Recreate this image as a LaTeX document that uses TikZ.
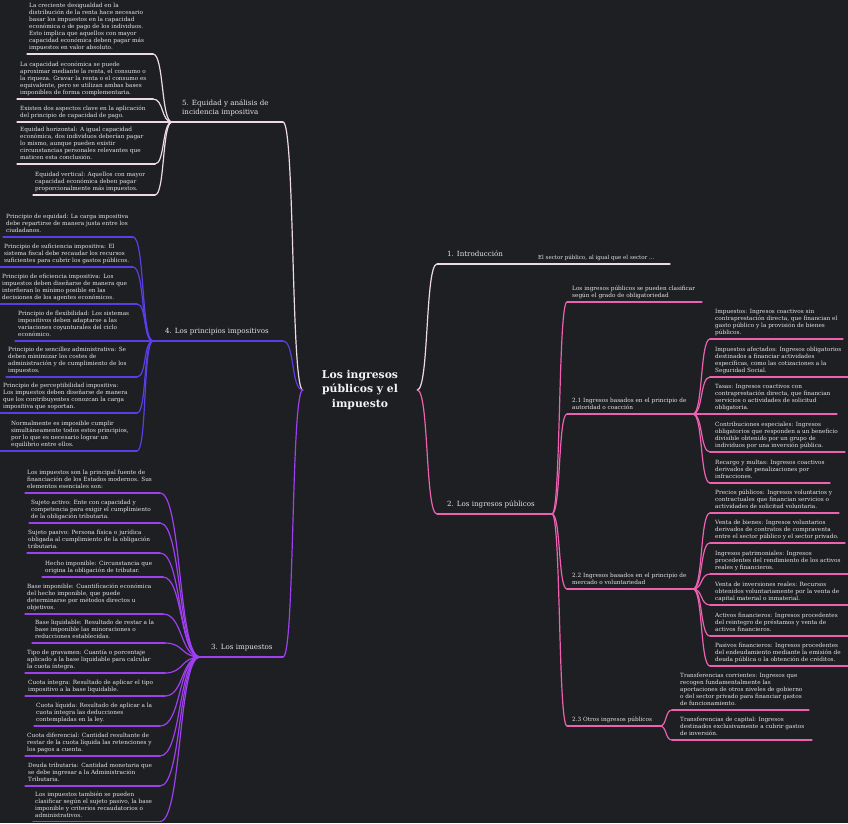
\documentclass[tikz,border=0pt]{standalone}
\usepackage{fontspec}
\setmainfont{DejaVu Serif}
\definecolor{bg}{HTML}{1E1F23}
\definecolor{txt}{HTML}{E6E6E6}
\definecolor{ttl}{HTML}{F4F4F4}
\definecolor{cw}{HTML}{EEDAE6}
\definecolor{cpk}{HTML}{EE60B0}
\definecolor{cbl}{HTML}{5B3DE6}
\definecolor{cpu}{HTML}{9E3FF0}
\newcommand\itm[8]{%
  \coordinate (#1-l) at (#4,#6);
  \coordinate (#1-r) at (#5,#6);
  \node[#2,anchor=south west] (#1) at (#7,#6) {#8};
  \draw[ln,#3] (#1-l) -- (#1-r);
}
\newcommand\lnkL[4]{\draw[ln,#1] (#2) to[out=180,in=0,distance=#4pt] (#3);}
\newcommand\lnkR[4]{\draw[ln,#1] (#2) to[out=0,in=180,distance=#4pt] (#3);}
\begin{document}
\begin{tikzpicture}[x=1pt,y=-1pt,
  ln/.style={line width=1.2pt,line cap=round},
  leaf/.style={font=\fontsize{5.75}{7}\selectfont,text=txt,align=left,inner sep=0pt,yshift=2pt,execute at end node=\strut},
  br/.style={font=\fontsize{7.1}{9.4}\selectfont,text=txt,align=left,inner sep=0pt,yshift=4.3pt,execute at end node=\strut},
  sm/.style={font=\fontsize{5.5}{6.5}\selectfont,text=txt,align=left,inner sep=0pt,yshift=2pt,execute at end node=\strut}]
\useasboundingbox (0,0) rectangle (848,823);
\fill[bg] (0,0) rectangle (848,823);

\node[font=\bfseries\fontsize{10.8}{14.5}\selectfont,text=ttl,align=center,minimum width=114pt,inner sep=0pt] (root) at (360,390) {Los ingresos\\públicos y el\\impuesto};

% ---------- right side ----------
\itm{b1}{br}{cw}{437}{530}{264}{447}{1. Introducción}
\itm{i1}{sm}{cw}{530}{670}{264}{538}{El sector público, al igual que el sector ...}
\itm{b2}{br}{cpk}{437}{552}{514}{447}{2. Los ingresos públicos}
\lnkR{cw}{root.east}{b1-l}{12}
\lnkR{cpk}{root.east}{b2-l}{12}

\itm{s0}{leaf}{cpk}{567}{702}{302}{572}{Los ingresos públicos se pueden clasificar\\según el grado de obligatoriedad}
\itm{s1}{leaf}{cpk}{567}{693}{414}{572}{2.1 Ingresos basados en el principio de\\autoridad o coacción}
\itm{s2}{leaf}{cpk}{567}{693}{589}{572}{2.2 Ingresos basados en el principio de\\mercado o voluntariedad}
\itm{s3}{leaf}{cpk}{567}{660}{726}{572}{2.3 Otros ingresos públicos}
\foreach \n in {s0,s1,s2,s3} {\lnkR{cpk}{b2-r}{\n-l}{9}}

\itm{a1}{leaf}{cpk}{710}{843}{339}{715}{Impuestos: Ingresos coactivos sin\\contraprestación directa, que financian el\\gasto público y la provisión de bienes\\públicos.}
\itm{a2}{leaf}{cpk}{710}{848}{377}{715}{Impuestos afectados: Ingresos obligatorios\\destinados a financiar actividades\\específicas, como las cotizaciones a la\\Seguridad Social.}
\itm{a3}{leaf}{cpk}{710}{837}{414}{715}{Tasas: Ingresos coactivos con\\contraprestación directa, que financian\\servicios o actividades de solicitud\\obligatoria.}
\itm{a4}{leaf}{cpk}{710}{845}{452}{715}{Contribuciones especiales: Ingresos\\obligatorios que responden a un beneficio\\divisible obtenido por un grupo de\\individuos por una inversión pública.}
\itm{a5}{leaf}{cpk}{710}{830}{483}{715}{Recargo y multas: Ingresos coactivos\\derivados de penalizaciones por\\infracciones.}
\foreach \n in {a1,a2,a3,a4,a5} {\lnkR{cpk}{s1-r}{\n-l}{10}}

\itm{m1}{leaf}{cpk}{710}{839}{513}{715}{Precios públicos: Ingresos voluntarios y\\contractuales que financian servicios o\\actividades de solicitud voluntaria.}
\itm{m2}{leaf}{cpk}{710}{845}{543}{715}{Venta de bienes: Ingresos voluntarios\\derivados de contratos de compraventa\\entre el sector público y el sector privado.}
\itm{m3}{leaf}{cpk}{710}{848}{574}{715}{Ingresos patrimoniales: Ingresos\\procedentes del rendimiento de los activos\\reales y financieros.}
\itm{m4}{leaf}{cpk}{710}{848}{605}{715}{Venta de inversiones reales: Recursos\\obtenidos voluntariamente por la venta de\\capital material o inmaterial.}
\itm{m5}{leaf}{cpk}{710}{848}{636}{715}{Activos financieros: Ingresos procedentes\\del reintegro de préstamos y venta de\\activos financieros.}
\itm{m6}{leaf}{cpk}{710}{848}{666}{715}{Pasivos financieros: Ingresos procedentes\\del endeudamiento mediante la emisión de\\deuda pública o la obtención de créditos.}
\foreach \n in {m1,m2,m3,m4,m5,m6} {\lnkR{cpk}{s2-r}{\n-l}{10}}

\itm{o1}{leaf}{cpk}{672}{809}{710}{680}{Transferencias corrientes: Ingresos que\\recogen fundamentalmente las\\aportaciones de otros niveles de gobierno\\o del sector privado para financiar gastos\\de funcionamiento.}
\itm{o2}{leaf}{cpk}{672}{812}{740}{680}{Transferencias de capital: Ingresos\\destinados exclusivamente a cubrir gastos\\de inversión.}
\foreach \n in {o1,o2} {\lnkR{cpk}{s3-r}{\n-l}{7}}

% ---------- left side ----------
\itm{b5}{br}{cw}{172}{283}{122}{182}{5. Equidad y análisis de\\incidencia impositiva}
\itm{b4}{br}{cbl}{153}{283}{341}{165}{4. Los principios impositivos}
\itm{b3}{br}{cpu}{200}{283}{657}{211}{3. Los impuestos}
\lnkL{cw}{root.west}{b5-r}{12}
\lnkL{cbl}{root.west}{b4-r}{12}
\lnkL{cpu}{root.west}{b3-r}{12}

\itm{e1}{leaf}{cw}{27}{153}{54}{29}{La creciente desigualdad en la\\distribución de la renta hace necesario\\basar los impuestos en la capacidad\\económica o de pago de los individuos.\\Esto implica que aquellos con mayor\\capacidad económica deben pagar más\\impuestos en valor absoluto.}
\itm{e2}{leaf}{cw}{17}{153}{99}{20}{La capacidad económica se puede\\aproximar mediante la renta, el consumo o\\la riqueza. Gravar la renta o el consumo es\\equivalente, pero se utilizan ambas bases\\imponibles de forma complementaria.}
\itm{e3}{leaf}{cw}{17}{172}{122}{20}{Existen dos aspectos clave en la aplicación\\del principio de capacidad de pago.}
\itm{e4}{leaf}{cw}{17}{155}{164}{20}{Equidad horizontal: A igual capacidad\\económica, dos individuos deberían pagar\\lo mismo, aunque pueden existir\\circunstancias personales relevantes que\\maticen esta conclusión.}
\itm{e5}{leaf}{cw}{33}{155}{195}{35}{Equidad vertical: Aquellos con mayor\\capacidad económica deben pagar\\proporcionalmente más impuestos.}
\foreach \n/\d in {e1/11,e2/11,e4/10,e5/10} {\lnkL{cw}{b5-l}{\n-r}{\d}}

\itm{p1}{leaf}{cbl}{3}{133}{237}{6}{Principio de equidad: La carga impositiva\\debe repartirse de manera justa entre los\\ciudadanos.}
\itm{p2}{leaf}{cbl}{0}{133}{267}{4}{Principio de suficiencia impositiva: El\\sistema fiscal debe recaudar los recursos\\suficientes para cubrir los gastos públicos.}
\itm{p3}{leaf}{cbl}{0}{137}{304}{2}{Principio de eficiencia impositiva: Los\\impuestos deben diseñarse de manera que\\interfieran lo mínimo posible en las\\decisiones de los agentes económicos.}
\itm{p4}{leaf}{cbl}{15}{153}{341}{18}{Principio de flexibilidad: Los sistemas\\impositivos deben adaptarse a las\\variaciones coyunturales del ciclo\\económico.}
\itm{p5}{leaf}{cbl}{6}{137}{377}{8}{Principio de sencillez administrativa: Se\\deben minimizar los costes de\\administración y de cumplimiento de los\\impuestos.}
\itm{p6}{leaf}{cbl}{0}{137}{413}{3}{Principio de perceptibilidad impositiva:\\Los impuestos deben diseñarse de manera\\que los contribuyentes conozcan la carga\\impositiva que soportan.}
\itm{p7}{leaf}{cbl}{0}{137}{451}{11}{Normalmente es imposible cumplir\\simultáneamente todos estos principios,\\por lo que es necesario lograr un\\equilibrio entre ellos.}
\foreach \n/\d in {p1/12,p2/12,p3/10,p5/10,p6/10,p7/10} {\lnkL{cbl}{b4-l}{\n-r}{\d}}

\itm{t1}{leaf}{cpu}{25}{160}{493}{27}{Los impuestos son la principal fuente de\\financiación de los Estados modernos. Sus\\elementos esenciales son:}
\itm{t2}{leaf}{cpu}{29}{160}{523}{31}{Sujeto activo: Ente con capacidad y\\competencia para exigir el cumplimiento\\de la obligación tributaria.}
\itm{t3}{leaf}{cpu}{27}{160}{553}{28}{Sujeto pasivo: Persona física o jurídica\\obligada al cumplimiento de la obligación\\tributaria.}
\itm{t4}{leaf}{cpu}{42}{163}{577}{45}{Hecho imponible: Circunstancia que\\origina la obligación de tributar.}
\itm{t5}{leaf}{cpu}{25}{163}{614}{27}{Base imponible: Cuantificación económica\\del hecho imponible, que puede\\determinarse por métodos directos u\\objetivos.}
\itm{t6}{leaf}{cpu}{32}{165}{643}{35}{Base liquidable: Resultado de restar a la\\base imponible las minoraciones o\\reducciones establecidas.}
\itm{t7}{leaf}{cpu}{25}{165}{673}{27}{Tipo de gravamen: Cuantía o porcentaje\\aplicado a la base liquidable para calcular\\la cuota íntegra.}
\itm{t8}{leaf}{cpu}{25}{165}{696}{28}{Cuota íntegra: Resultado de aplicar el tipo\\impositivo a la base liquidable.}
\itm{t9}{leaf}{cpu}{34}{160}{726}{36}{Cuota líquida: Resultado de aplicar a la\\cuota íntegra las deducciones\\contempladas en la ley.}
\itm{t10}{leaf}{cpu}{25}{160}{756}{27}{Cuota diferencial: Cantidad resultante de\\restar de la cuota líquida las retenciones y\\los pagos a cuenta.}
\itm{t11}{leaf}{cpu}{25}{160}{786}{28}{Deuda tributaria: Cantidad monetaria que\\se debe ingresar a la Administración\\Tributaria.}
\itm{t12}{leaf}{cpu}{33}{160}{821.5}{35}{Los impuestos también se pueden\\clasificar según el sujeto pasivo, la base\\imponible y criterios recaudatorios o\\administrativos.}
\foreach \n/\d in {t1/22,t2/22,t3/22,t4/20,t5/20,t6/19,t7/19,t8/19,t9/22,t10/22,t11/22,t12/22} {\lnkL{cpu}{b3-l}{\n-r}{\d}}
\end{tikzpicture}
\end{document}
